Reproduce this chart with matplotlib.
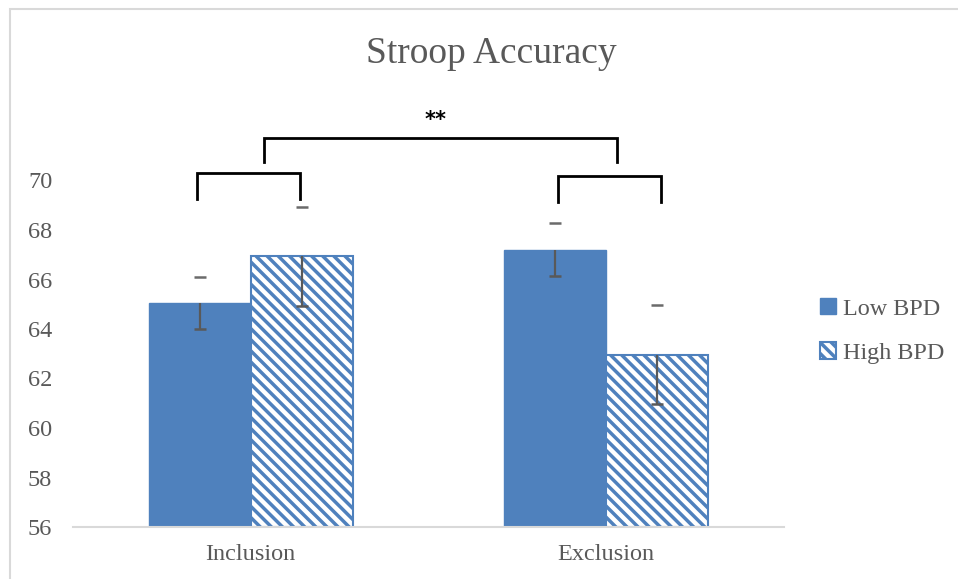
import numpy as np
import matplotlib
matplotlib.use('Agg')
import matplotlib.pyplot as plt
from matplotlib.patches import Rectangle

plt.rcParams['hatch.linewidth'] = 2.5
plt.rcParams['hatch.color'] = '#4F81BD'

conditions = ['Inclusion', 'Exclusion']
groups = ['Low BPD', 'High BPD']
low_bpd = [65.07, 67.2]
high_bpd = [66.94, 62.96]
low_err = [1.05, 1.07]
high_err = [2.0, 2.0]
yticks = [56, 58, 60, 62, 64, 66, 68, 70]

blue = '#4F81BD'
grey = '#595959'

fig = plt.figure(figsize=(9.58, 5.79), dpi=100)
ax = fig.add_axes([73/958, 1 - 527/579, (784 - 73)/958, (527 - 180.5)/579])

x = np.arange(len(conditions))
w = 0.287
b1 = ax.bar(x - w/2, np.array(low_bpd) - 56, w, bottom=56, color=blue,
            edgecolor=blue, linewidth=1, label=groups[0], zorder=2)
b2 = ax.bar(x + w/2, np.array(high_bpd) - 56, w, bottom=56, color='white',
            edgecolor=blue, hatch='\\\\\\', linewidth=1.5, label=groups[1], zorder=2)

# error bars: lower whisker visible, upper shown only as its cap
for xs, means, errs in [(x - w/2, low_bpd, low_err), (x + w/2, high_bpd, high_err)]:
    means = np.array(means)
    errs = np.array(errs)
    ax.vlines(xs, means - errs, means, color=grey, linewidth=1.6, zorder=3)
    ax.plot(xs, means - errs, ls='none', marker='_', ms=8.6, mew=1.8, color=grey, zorder=3)
    ax.plot(xs, means + errs, ls='none', marker='_', ms=8.6, mew=1.8, color='#6b6b6b',
            zorder=3, clip_on=False)

ax.set_xlim(-0.5, 1.5)
ax.set_ylim(56, 70)
ax.set_yticks(yticks)
ax.set_xticks(x)
ax.set_xticklabels(conditions)
for s in ['top', 'right', 'left']:
    ax.spines[s].set_visible(False)
ax.spines['bottom'].set_color('#D9D9D9')
ax.spines['bottom'].set_linewidth(1.5)
ax.tick_params(axis='both', length=0, colors=grey)
ax.tick_params(axis='y', pad=15, labelsize=17.5)
ax.tick_params(axis='x', pad=12, labelsize=17.5)
for t in ax.get_xticklabels() + ax.get_yticklabels():
    t.set_fontfamily('Liberation Serif')

# significance brackets
def bracket(x0, x1, ybot, ytop):
    ax.plot([x0, x0, x1, x1], [ybot, ytop, ytop, ybot], color='black', lw=2,
            clip_on=False, solid_joinstyle='miter', zorder=4)

bracket(-0.150, 0.139, 69.24, 70.29)
bracket(0.864, 1.154, 69.12, 70.19)
bracket(0.038, 1.029, 70.76, 71.70)
ax.text(0.52, 72.45, '**', ha='center', va='center', fontsize=15,
        fontweight='bold', color='black', clip_on=False)

fig.text(491/958, 1 - 54/579, 'Stroop Accuracy', ha='center', va='center',
         fontsize=27, color=grey, family='Liberation Serif')

leg = fig.legend(handles=[b1, b2], labels=groups, loc='center left',
                 bbox_to_anchor=(820/958, 1 - 331/579), frameon=False,
                 handlelength=0.65, handleheight=0.65, handletextpad=0.3,
                 labelspacing=0.95, borderaxespad=0, borderpad=0,
                 prop={'family': 'Liberation Serif', 'size': 17.4})
for t in leg.get_texts():
    t.set_color(grey)

fig.patches.append(Rectangle((10/958, -0.05), 1.1, 1 - 9/579 + 0.05,
                             transform=fig.transFigure, fill=False,
                             edgecolor='#D9D9D9', linewidth=1.5))

fig.savefig('out.png', dpi=100)
